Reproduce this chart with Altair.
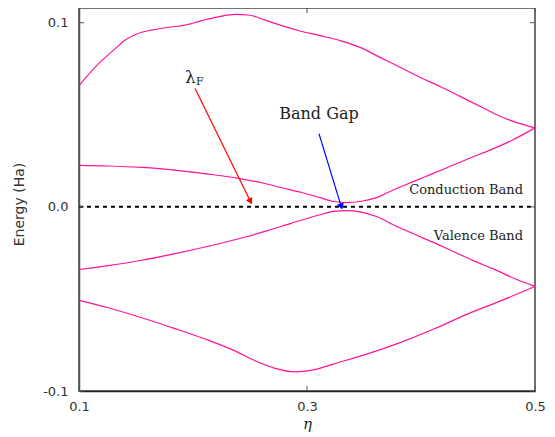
import altair as alt
import pandas as pd

# ---- data ----
top_x = [0.1, 0.114, 0.1316, 0.14, 0.1506, 0.1638, 0.178, 0.193, 0.2076, 0.222, 0.2368, 0.2485,
         0.2632, 0.2778, 0.2924, 0.3114, 0.329, 0.3465, 0.364, 0.3816, 0.399, 0.4167, 0.4342,
         0.4518, 0.4693, 0.4868, 0.5]
top_y = [0.0659, 0.0758, 0.0858, 0.0903, 0.0939, 0.0960, 0.0975, 0.0987, 0.1011, 0.1032, 0.1045,
         0.1042, 0.1014, 0.0984, 0.0958, 0.0930, 0.0903, 0.0866, 0.0812, 0.0758, 0.0704, 0.0654,
         0.0600, 0.0546, 0.0492, 0.0452, 0.0429]

cond_x = [0.1, 0.1257, 0.155, 0.1842, 0.2134, 0.2398, 0.2603, 0.2778, 0.2954, 0.3114, 0.323,
          0.3348, 0.3465, 0.361, 0.3757, 0.3932, 0.4108, 0.4283, 0.4459, 0.4605, 0.48, 0.5]
cond_y = [0.0225, 0.0222, 0.0214, 0.0200, 0.0178, 0.0155, 0.0131, 0.0104, 0.0078, 0.0050, 0.0029,
          0.0023, 0.0029, 0.0050, 0.0092, 0.0137, 0.0182, 0.0227, 0.0272, 0.0308, 0.0362, 0.0429]

val_x = [0.1, 0.1257, 0.155, 0.1842, 0.2134, 0.2427, 0.266, 0.2866, 0.3114, 0.323, 0.3348, 0.3465,
         0.361, 0.3757, 0.3932, 0.4108, 0.4283, 0.4459, 0.4634, 0.481, 0.5]
val_y = [-0.0340, -0.0319, -0.0290, -0.0254, -0.0214, -0.0169, -0.0128, -0.0088, -0.0043, -0.0025,
         -0.0020, -0.0027, -0.0052, -0.0097, -0.0146, -0.0193, -0.0242, -0.0292, -0.0337, -0.0386,
         -0.0432]

low_x = [0.1, 0.1257, 0.155, 0.1842, 0.2134, 0.2368, 0.2544, 0.272, 0.2895, 0.3085, 0.323, 0.3524,
         0.3816, 0.4108, 0.4401, 0.4693, 0.5]
low_y = [-0.0508, -0.0548, -0.0602, -0.0661, -0.0724, -0.0782, -0.0836, -0.0877, -0.0896, -0.0881,
         -0.0854, -0.0800, -0.0737, -0.0665, -0.0584, -0.0512, -0.0432]

x_ticks = [0.1, 0.3, 0.5]
y_ticks = [-0.1, 0.0, 0.1]

# arrows: start (x, y) -> end (x2, y2)
arrow_names = ["lambda", "gap"]
arrow_x = [0.2018, 0.3105]
arrow_y = [0.0643, 0.0398]
arrow_x2 = [0.2500, 0.3298]
arrow_y2 = [0.0035, 0.0007]
arrow_colors = ["#ff0000", "#0000ff"]
arrow_angles = [153, 163]

# labels
band_labels = ["Conduction Band", "Valence Band"]
band_label_x = [0.4895, 0.4895]
band_label_y = [0.0070, -0.0178]

W, H = 456, 383
PINK = "#ff1493"

rows = []
for name, xs, ys in [("top", top_x, top_y), ("cond", cond_x, cond_y),
                     ("val", val_x, val_y), ("low", low_x, low_y)]:
    for a, b in zip(xs, ys):
        rows.append({"series": name, "x": a, "y": b})
curves = pd.DataFrame(rows)

xscale = alt.Scale(domain=[0.1, 0.5], nice=False, zero=False)
yscale = alt.Scale(domain=[-0.1, 0.108], nice=False, zero=False)

xaxis = alt.Axis(values=x_ticks, format=".1f", ticks=False, grid=False, labelPadding=9,
                 labelFlush=False, labelOverlap=False,
                 labelFont="DejaVu Sans", labelFontSize=13, labelColor="#333",
                 domainColor="#222", domainWidth=1.5,
                 title="η", titleFont="DejaVu Serif", titleFontStyle="italic",
                 titleFontWeight="normal", titleFontSize=15, titleColor="#222", titlePadding=3)
yaxis = alt.Axis(values=y_ticks, ticks=False, grid=False, labelPadding=11,
                 labelFlush=False, labelOverlap=False,
                 labelExpr="datum.value < 0 ? '-' + format(-datum.value, '.1f') : format(datum.value, '.1f')",
                 labelFont="DejaVu Sans", labelFontSize=13, labelColor="#333",
                 domainColor="#555", domainWidth=1.5,
                 title="Energy (Ha)", titleFont="DejaVu Sans", titleFontWeight="normal",
                 titleFontSize=14, titleColor="#333", titleX=-60, titleY=196,
                 titleAngle=270, titleAlign="center", titleBaseline="middle")

lines = alt.Chart(curves).mark_line(color=PINK, strokeWidth=1.2, interpolate="monotone").encode(
    x=alt.X("x:Q", scale=xscale, axis=xaxis),
    y=alt.Y("y:Q", scale=yscale, axis=yaxis),
    detail="series:N",
)

zero = alt.Chart(pd.DataFrame({"y": [0.0]})).mark_rule(
    color="black", strokeWidth=2, strokeDash=[4, 4]).encode(
    y=alt.Y("y:Q", scale=yscale), x=alt.value(0), x2=alt.value(W))

xt = pd.DataFrame({"x": x_ticks})
yt = pd.DataFrame({"y": y_ticks})
tick_bottom = alt.Chart(xt).mark_rule(color="#555", strokeWidth=1).encode(
    x=alt.X("x:Q", scale=xscale), y=alt.value(H), y2=alt.value(H - 5))
tick_top = alt.Chart(xt).mark_rule(color="#555", strokeWidth=1).encode(
    x=alt.X("x:Q", scale=xscale), y=alt.value(0), y2=alt.value(5))
tick_left = alt.Chart(yt).mark_rule(color="#555", strokeWidth=1).encode(
    y=alt.Y("y:Q", scale=yscale), x=alt.value(0), x2=alt.value(5))
tick_right = alt.Chart(yt).mark_rule(color="#555", strokeWidth=1).encode(
    y=alt.Y("y:Q", scale=yscale), x=alt.value(W), x2=alt.value(W - 5))

arrows_df = pd.DataFrame({"name": arrow_names, "x": arrow_x, "y": arrow_y,
                          "x2": arrow_x2, "y2": arrow_y2, "color": arrow_colors,
                          "angle": arrow_angles})
arrow_lines = alt.Chart(arrows_df).mark_rule(strokeWidth=1.2).encode(
    x=alt.X("x:Q", scale=xscale), y=alt.Y("y:Q", scale=yscale),
    x2="x2:Q", y2="y2:Q",
    color=alt.Color("color:N", scale=None))
arrow_heads = alt.Chart(arrows_df).mark_point(shape="triangle", filled=True, size=14, opacity=1).encode(
    x=alt.X("x2:Q", scale=xscale), y=alt.Y("y2:Q", scale=yscale),
    angle=alt.Angle("angle:Q", scale=None),
    fill=alt.Fill("color:N", scale=None),
    stroke=alt.Stroke("color:N", scale=None))

band_df = pd.DataFrame({"label": band_labels, "x": band_label_x, "y": band_label_y})
band_text = alt.Chart(band_df).mark_text(font="DejaVu Serif", fontSize=13, align="right",
                                         baseline="alphabetic", color="#222").encode(
    x=alt.X("x:Q", scale=xscale), y=alt.Y("y:Q", scale=yscale), text="label:N")

gap_text = alt.Chart(pd.DataFrame({"label": ["Band Gap"], "x": [0.3105], "y": [0.0476]})).mark_text(
    font="DejaVu Serif", fontSize=16, align="center", baseline="alphabetic", color="#222").encode(
    x=alt.X("x:Q", scale=xscale), y=alt.Y("y:Q", scale=yscale), text="label:N")

lam_text = alt.Chart(pd.DataFrame({"label": ["λ"], "x": [0.1930], "y": [0.0670]})).mark_text(
    font="DejaVu Serif", fontSize=17, align="left", baseline="alphabetic", color="#222").encode(
    x=alt.X("x:Q", scale=xscale), y=alt.Y("y:Q", scale=yscale), text="label:N")
sub_text = alt.Chart(pd.DataFrame({"label": ["F"], "x": [0.2026], "y": [0.0660]})).mark_text(
    font="DejaVu Serif", fontSize=11, align="left", baseline="alphabetic", color="#222").encode(
    x=alt.X("x:Q", scale=xscale), y=alt.Y("y:Q", scale=yscale), text="label:N")

chart = alt.layer(
    lines, zero, tick_bottom, tick_top, tick_left, tick_right,
    arrow_lines, arrow_heads, band_text, gap_text, lam_text, sub_text
).properties(
    width=W, height=H, autosize="none",
    padding={"left": 71, "top": 0, "right": 12, "bottom": 42},
).configure_view(stroke="#444", strokeWidth=1.5)

chart.save("out.html", embed_options={"renderer": "svg", "actions": False})
